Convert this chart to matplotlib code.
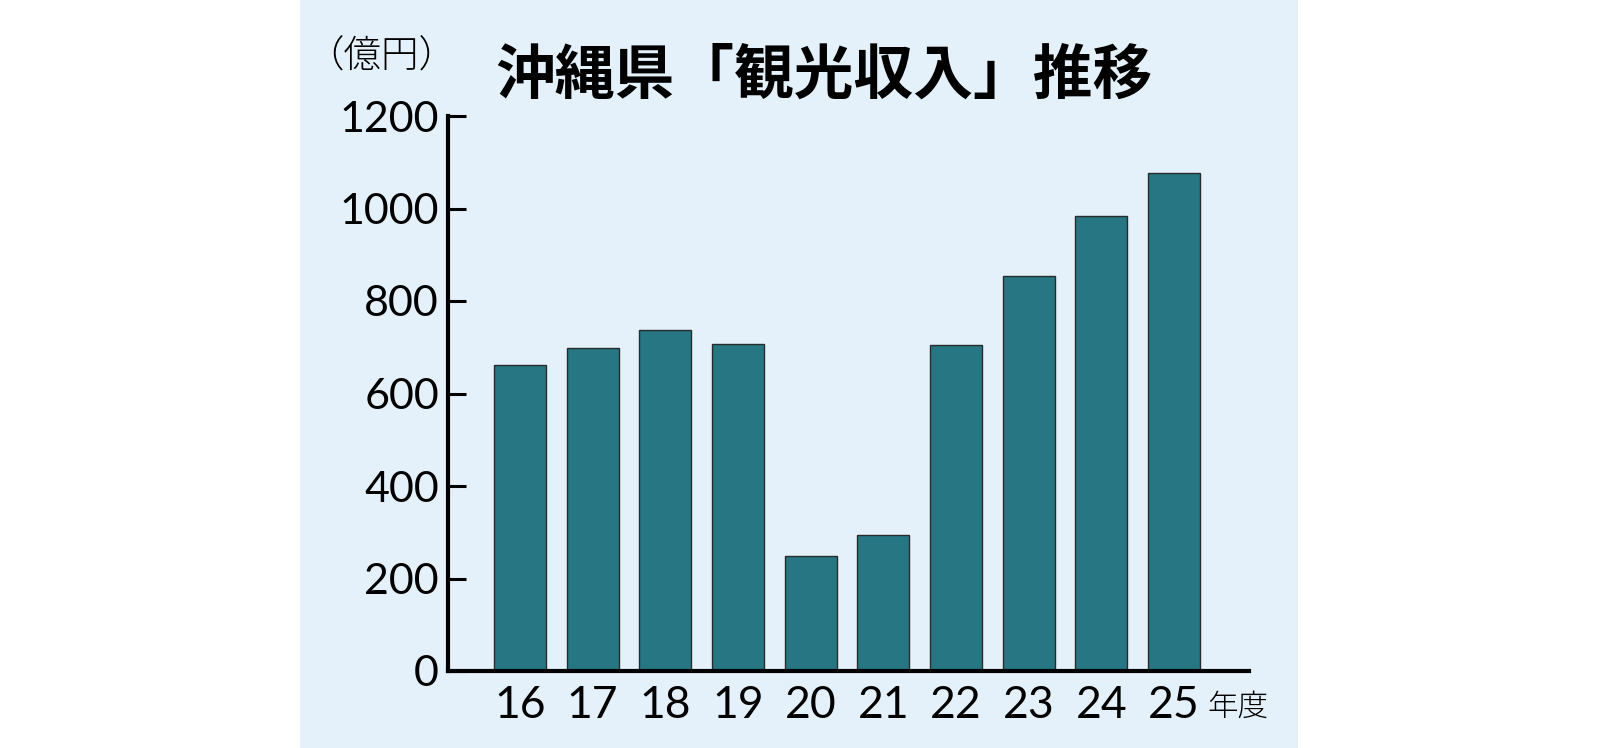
import matplotlib
matplotlib.use("Agg")
import matplotlib.pyplot as plt
from matplotlib.patches import Rectangle

# data
years = ["16", "17", "18", "19", "20", "21", "22", "23", "24", "25"]
income = [662, 699, 737, 706, 249, 293, 704, 854, 984, 1077]
yticks = [0, 200, 400, 600, 800, 1000, 1200]

cjk = ["Noto Sans CJK JP", "DejaVu Sans"]
num_font = ["Lato", "DejaVu Sans"]

bar_color = "#267684"
panel_color = "#e4f1fb"

fig = plt.figure(figsize=(16, 7.48), dpi=100)
fig.patch.set_facecolor("white")

# light blue panel behind the chart
fig.patches.append(Rectangle((300 / 1600, 0), 998 / 1600, 1,
                             transform=fig.transFigure, facecolor=panel_color,
                             edgecolor="none", zorder=-5))

ax = fig.add_axes([448 / 1600, 77 / 748, (1249 - 448) / 1600, (632 - 77) / 748])
ax.set_zorder(2)
ax.set_facecolor("none")

x = range(len(years))
ax.bar(x, income, width=0.715, color=bar_color, edgecolor="#2a2a2a", linewidth=1.0, zorder=3)

ax.set_xlim(-0.99, 10.03)
ax.set_ylim(0, 1200)

for side in ["top", "right"]:
    ax.spines[side].set_visible(False)
for side in ["left", "bottom"]:
    ax.spines[side].set_linewidth(3.0)
    ax.spines[side].set_color("black")
    ax.spines[side].set_zorder(4)

ax.set_yticks(yticks)
ax.set_yticklabels([str(v) for v in yticks], family=num_font, fontsize=31)
ax.tick_params(axis="y", direction="in", length=13, width=2.2, pad=6.5, color="black")

ax.set_xticks(list(x))
ax.set_xticklabels(years, family=num_font, fontsize=32)
ax.tick_params(axis="x", length=0, pad=10)

# unit labels and title
fig.text(306 / 1600, 1 - 57 / 748, "（億円）", family=cjk, fontsize=27,
         ha="left", va="center", fontweight="light")
fig.text(1207 / 1600, 1 - 707 / 748, "年度", family=cjk, fontsize=22,
         ha="left", va="center", fontweight="light")
fig.text(495 / 1600, 1 - 77 / 748, "沖縄県「観光収入」推移", family=cjk, fontsize=43,
         ha="left", va="center", fontweight="bold")

fig.savefig("out.png", dpi=100, facecolor="white")
